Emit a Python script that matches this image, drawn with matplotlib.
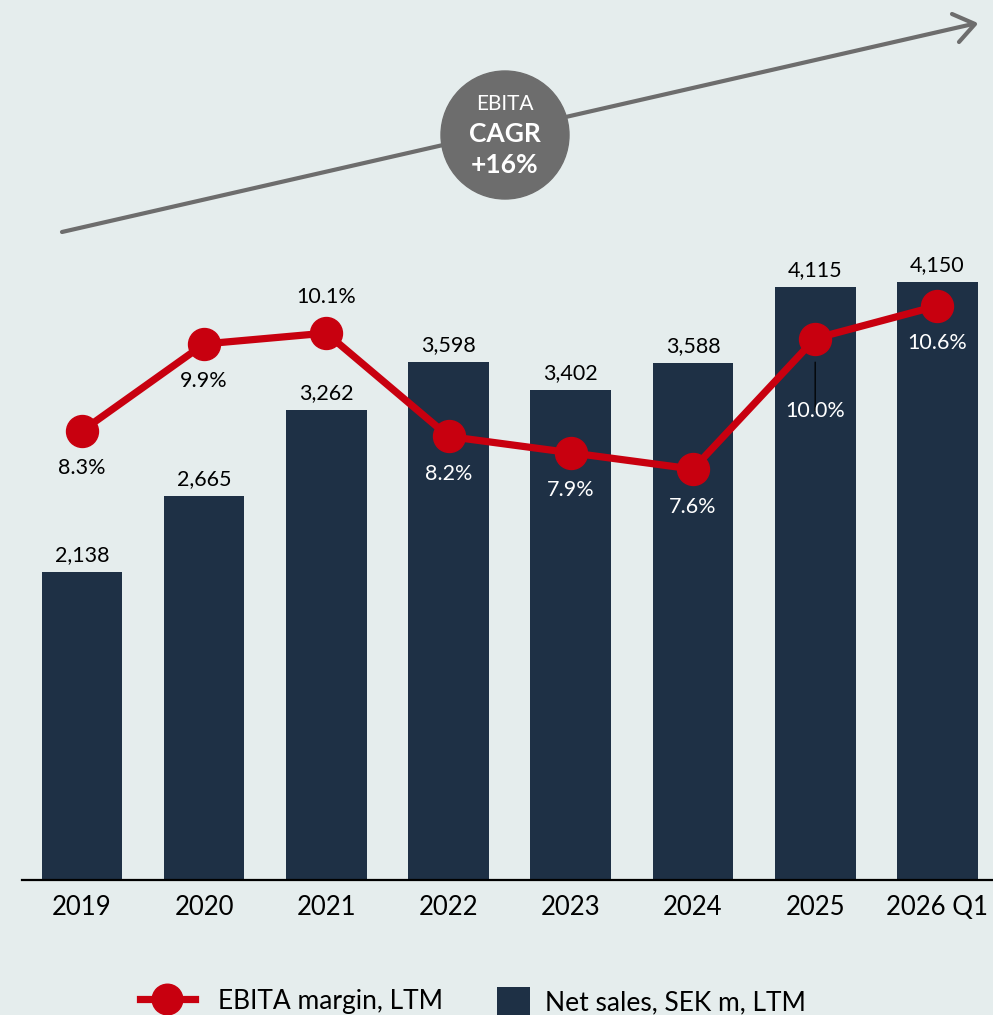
import matplotlib.pyplot as plt
from matplotlib.lines import Line2D
from matplotlib.patches import Patch, Circle

plt.rcParams['font.family'] = ['Lato', 'DejaVu Sans']

# data
years = ['2019', '2020', '2021', '2022', '2023', '2024', '2025', '2026 Q1']
net_sales = [2138, 2665, 3262, 3598, 3402, 3588, 4115, 4150]
ebita_margin = [8.3, 9.9, 10.1, 8.2, 7.9, 7.6, 10.0, 10.6]
label_above = [False, False, True, False, False, False, False, False]
label_white = [False, False, False, True, True, True, True, True]

bg = '#e5eded'
navy = '#1e3045'
red = '#c8000f'
grey = '#6d6d6d'

W, H = 993, 1015
fig = plt.figure(figsize=(W / 100, H / 100), dpi=100, facecolor=bg)
ax = fig.add_axes([22 / W, 1 - 880 / H, 1 - 22 / W, 880 / H])
ax.set_facecolor('none')

x = list(range(len(years)))
ax.bar(x, net_sales, width=0.66, color=navy, zorder=2)
ax.set_xlim(-0.49, 7.455)
ax.set_ylim(0, 6107)
for xi, v in zip(x, net_sales):
    ax.annotate(f'{v:,}', (xi, v), xytext=(0, 5), textcoords='offset points',
                ha='center', va='bottom', fontsize=15.5, color='black')

ax.set_xticks(x)
ax.set_xticklabels(years, fontsize=18.5)
ax.tick_params(axis='x', length=0, pad=11)
ax.set_yticks([])
for s in ['top', 'right', 'left']:
    ax.spines[s].set_visible(False)
ax.spines['bottom'].set_linewidth(1.6)

# margin line on its own scale
ax2 = ax.twinx()
ax2.set_ylim(0.046, 16.223)
ax2.set_yticks([])
for s in ax2.spines.values():
    s.set_visible(False)
ax2.plot(x, ebita_margin, color=red, lw=5.2, marker='o', markersize=23, zorder=3)
for xi, m, up, wh in zip(x, ebita_margin, label_above, label_white):
    col = 'white' if wh else 'black'
    if xi == 6:
        # label pushed down with a leader line
        ax2.annotate('', (xi, m), xytext=(0, -52), textcoords='offset points',
                     arrowprops=dict(arrowstyle='-', color='black', lw=0.9,
                                     shrinkA=0, shrinkB=17))
        ax2.annotate(f'{m:.1f}%', (xi, m), xytext=(0, -52), textcoords='offset points',
                     ha='center', va='center', fontsize=15.5, color=col)
    else:
        dy = 26 if up else -27
        ax2.annotate(f'{m:.1f}%', (xi, m), xytext=(0, dy), textcoords='offset points',
                     ha='center', va='center', fontsize=15.5, color=col)

# growth arrow with CAGR badge, in pixel coordinates
ax_top = fig.add_axes([0, 0, 1, 1])
ax_top.set_xlim(0, W)
ax_top.set_ylim(H, 0)
ax_top.axis('off')
ax_top.plot([62, 973], [232, 24], color=grey, lw=3, solid_capstyle='round', zorder=1)
ax_top.plot([952, 975, 959], [14, 24, 42], color=grey, lw=3,
            solid_capstyle='round', solid_joinstyle='round', zorder=1)
ax_top.add_patch(Circle((505, 135), 64, color=grey, zorder=3))
ax_top.text(505, 104, 'EBITA', ha='center', va='center', color='white', fontsize=15, zorder=4)
ax_top.text(505, 134, 'CAGR', ha='center', va='center', color='white', fontsize=19,
            fontweight='bold', zorder=4)
ax_top.text(505, 165, '+16%', ha='center', va='center', color='white', fontsize=19,
            fontweight='bold', zorder=4)

# two legend entries, each with its own handle size
leg_y = 1 - 1001 / H
leg1 = fig.legend([Line2D([], [], color=red, lw=5.2, marker='o', markersize=22)],
                  ['EBITA margin, LTM'], loc='center left',
                  bbox_to_anchor=(140 / W, leg_y), frameon=False, fontsize=19,
                  handlelength=2.08, handletextpad=0.87, borderpad=0, borderaxespad=0)
fig.legend([Patch(facecolor=navy)], ['Net sales, SEK m, LTM'], loc='center left',
           bbox_to_anchor=(497 / W, leg_y), frameon=False, fontsize=19,
           handlelength=1.25, handleheight=1.25, handletextpad=0.57,
           borderpad=0, borderaxespad=0)

fig.savefig('out.png', dpi=100, facecolor=bg)
